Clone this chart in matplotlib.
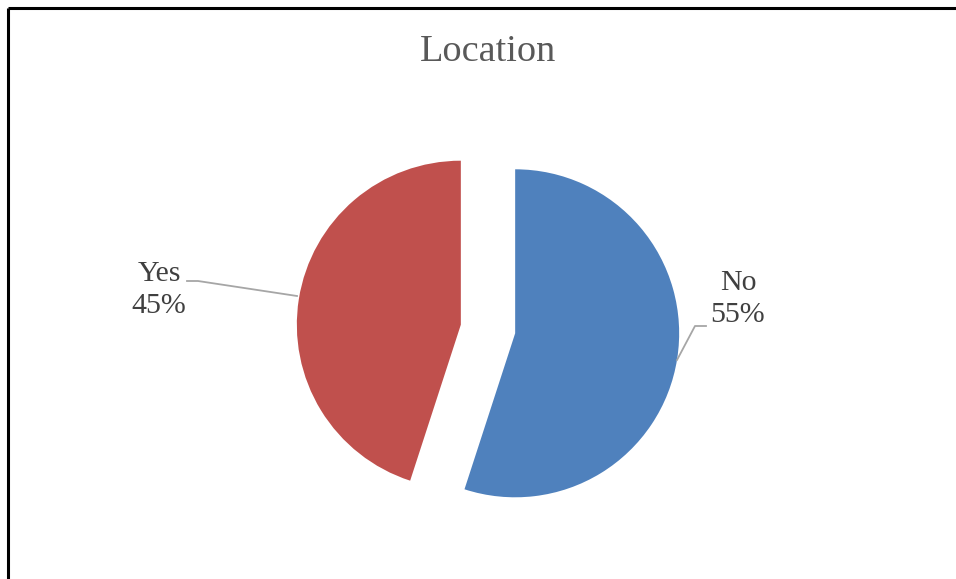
import matplotlib
matplotlib.use('Agg')
import matplotlib.pyplot as plt

labels = ['No', 'Yes']
values = [55, 45]
colors = ['#4F81BD', '#C0504D']

W, H = 956, 579
R = 164
fig = plt.figure(figsize=(W / 100, H / 100), dpi=100)
ax = fig.add_axes([0, 0, 1, 1])

# chart frame (only top and left edges visible in the crop)
ax.plot([8, W], [H - 8, H - 8], color='black', lw=2.2, solid_capstyle='butt')
ax.plot([8, 8], [H - 8, 0], color='black', lw=2.2, solid_capstyle='butt')

# explode is in data units here, not a fraction of the radius
wedges, _ = ax.pie(values, colors=colors, startangle=90, counterclock=False,
                   radius=R, center=(488, H - 329),
                   explode=[27.5, 27.5],
                   wedgeprops=dict(linewidth=0), frame=True)
ax.set_xlim(0, W)
ax.set_ylim(0, H)
ax.set_aspect('equal')
ax.axis('off')

serif = ['Liberation Serif', 'DejaVu Serif']
ax.text(488, H - 52, 'Location', ha='center', va='center', fontsize=27.5,
        color='#595959', family=serif)

pcts = ['%d%%' % v for v in values]
# No label
ax.text(738, H - 299, labels[0] + '\n' + pcts[0], ha='center', va='center',
        fontsize=21.5, color='#404040', family=serif, linespacing=1.33)
ax.plot([677, 695, 706], [H - 360, H - 326, H - 326], color='#A6A6A6', lw=1.3)
# Yes label
ax.text(159, H - 290, labels[1] + '\n' + pcts[1], ha='center', va='center',
        fontsize=21.5, color='#404040', family=serif, linespacing=1.33)
ax.plot([187, 198, 297], [H - 281, H - 281, H - 296], color='#A6A6A6', lw=1.3)

fig.savefig('out.png', dpi=100)
